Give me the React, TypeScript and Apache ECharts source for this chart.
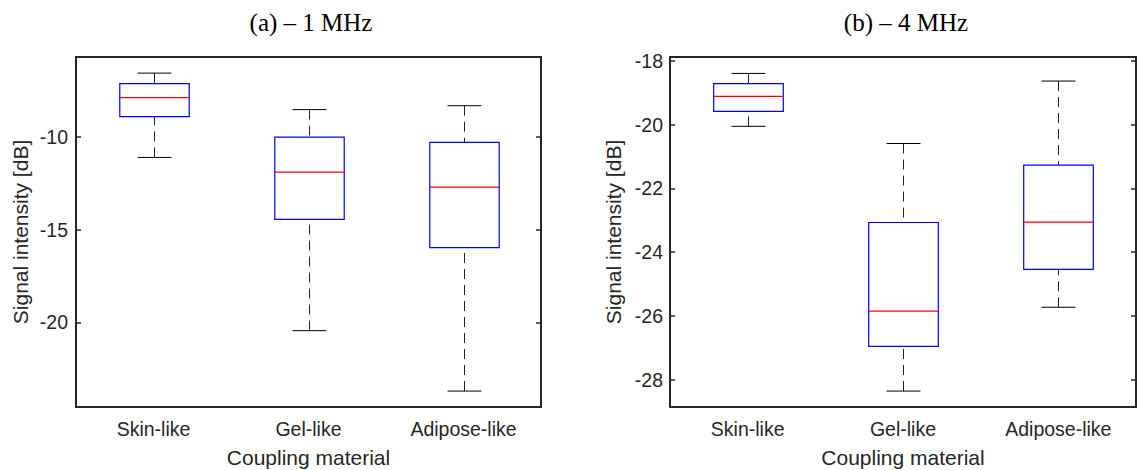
import React, { useEffect, useRef } from "react";
import * as echarts from "echarts";

// ---- Data ----
const categories = ["Skin-like", "Gel-like", "Adipose-like"];

// (a) 1 MHz
const lowA = [-11.1, -20.45, -23.71];
const q1A = [-8.9, -14.44, -15.97];
const medianA = [-7.87, -11.89, -12.7];
const q3A = [-7.12, -10.0, -10.29];
const highA = [-6.55, -8.52, -8.31];
const ticksA = [-20, -15, -10];
const rangeA = [-24.57, -5.68];

// (b) 4 MHz
const lowB = [-20.05, -28.36, -25.73];
const q1B = [-19.58, -26.96, -24.54];
const medianB = [-19.11, -25.85, -23.06];
const q3B = [-18.71, -23.07, -21.27];
const highB = [-18.39, -20.59, -18.63];
const ticksB = [-28, -26, -24, -22, -20, -18];
const rangeB = [-28.86, -17.875];

const titles = ["(a) \u2013 1 MHz", "(b) \u2013 4 MHz"];
const xName = "Coupling material";
const yName = "Signal intensity [dB]";

const AXIS = "#262626";
const SANS = "'Liberation Sans', Arial, Helvetica, sans-serif";
const SERIF = "'Liberation Serif', 'Times New Roman', serif";

function renderBox(params: any, api: any) {
  const i = api.value(0);
  const lo = api.coord([i, api.value(1)]);
  const q1 = api.coord([i, api.value(2)]);
  const md = api.coord([i, api.value(3)]);
  const q3 = api.coord([i, api.value(4)]);
  const hi = api.coord([i, api.value(5)]);
  const band = api.size([1, 0])[0];
  const bw = band * 0.448;
  const cw = band * 0.219;
  const x = Math.round(md[0]) + 0.5;
  const dash = { stroke: "#222", lineWidth: 1, lineDash: [10, 6] };
  const solid = { stroke: "#000", lineWidth: 1 };
  return {
    type: "group",
    children: [
      { type: "line", shape: { x1: x, y1: hi[1], x2: x, y2: q3[1] }, style: dash },
      { type: "line", shape: { x1: x, y1: lo[1], x2: x, y2: q1[1] }, style: dash },
      { type: "line", shape: { x1: x - cw / 2, y1: hi[1], x2: x + cw / 2, y2: hi[1] }, style: solid },
      { type: "line", shape: { x1: x - cw / 2, y1: lo[1], x2: x + cw / 2, y2: lo[1] }, style: solid },
      {
        type: "rect",
        shape: { x: x - bw / 2, y: q3[1], width: bw, height: q1[1] - q3[1] },
        style: { fill: "none", stroke: "#0000ff", lineWidth: 1.2 },
      },
      {
        type: "line",
        shape: { x1: x - bw / 2, y1: md[1], x2: x + bw / 2, y2: md[1] },
        style: { stroke: "#ff0000", lineWidth: 1.2 },
      },
    ],
  };
}

function makeData(lo: number[], q1: number[], md: number[], q3: number[], hi: number[]) {
  return categories.map((_, i) => [i, lo[i], q1[i], md[i], q3[i], hi[i]]);
}

function xAxes(gridIndex: number) {
  const line = { lineStyle: { color: AXIS, width: 2 } };
  const tick = { inside: true, alignWithLabel: true, length: 5, lineStyle: { color: AXIS, width: 1.5 } };
  return [
    {
      gridIndex,
      type: "category",
      data: categories,
      position: "bottom",
      name: xName,
      nameLocation: "middle",
      nameGap: 40,
      nameTextStyle: { fontFamily: SANS, fontSize: 21, color: AXIS },
      axisLine: line,
      axisTick: tick,
      axisLabel: { margin: 12, fontFamily: SANS, fontSize: 19.5, color: AXIS },
      splitLine: { show: false },
    },
    {
      gridIndex,
      type: "category",
      data: categories,
      position: "top",
      axisLine: line,
      axisTick: tick,
      axisLabel: { show: false },
      splitLine: { show: false },
    },
  ];
}

function yAxes(gridIndex: number, range: number[], ticks: number[], nameGap: number, margin: number) {
  const line = { show: true, lineStyle: { color: AXIS, width: 2 } };
  const tick = { show: true, inside: true, length: 5, customValues: ticks, lineStyle: { color: AXIS, width: 1.5 } };
  return [
    {
      gridIndex,
      type: "value",
      position: "left",
      min: range[0],
      max: range[1],
      name: yName,
      nameLocation: "middle",
      nameGap,
      nameTextStyle: { fontFamily: SANS, fontSize: 21, color: AXIS },
      axisLine: line,
      axisTick: tick,
      axisLabel: { customValues: ticks, margin, fontFamily: SANS, fontSize: 19.5, color: AXIS },
      splitLine: { show: false },
    },
    {
      gridIndex,
      type: "value",
      position: "right",
      min: range[0],
      max: range[1],
      axisLine: line,
      axisTick: tick,
      axisLabel: { show: false },
      splitLine: { show: false },
    },
  ];
}

export default function App() {
  const ref = useRef<HTMLDivElement>(null);
  useEffect(() => {
    if (!ref.current) return;
    const chart = echarts.init(ref.current, null, { renderer: "svg" });
    const option: any = {
      animation: false,
      backgroundColor: "#ffffff",
      graphic: [
        {
          type: "text",
          x: 311,
          y: 22,
          style: { text: titles[0], textAlign: "center", textVerticalAlign: "middle", font: `25px ${SERIF}`, fill: "#000" },
        },
        {
          type: "text",
          x: 906,
          y: 22,
          style: { text: titles[1], textAlign: "center", textVerticalAlign: "middle", font: `25px ${SERIF}`, fill: "#000" },
        },
      ],
      grid: [
        { left: 76, top: 57, width: 465, height: 350, outerBoundsMode: "none", containLabel: false },
        { left: 670, top: 57, width: 466, height: 350, outerBoundsMode: "none", containLabel: false },
      ],
      xAxis: [...xAxes(0), ...xAxes(1)],
      yAxis: [...yAxes(0, rangeA, ticksA, 45, 8), ...yAxes(1, rangeB, ticksB, 46, 7)],
      series: [
        {
          type: "custom",
          xAxisIndex: 0,
          yAxisIndex: 0,
          renderItem: renderBox,
          encode: { x: 0, y: [1, 2, 3, 4, 5] },
          data: makeData(lowA, q1A, medianA, q3A, highA),
        },
        {
          type: "custom",
          xAxisIndex: 2,
          yAxisIndex: 2,
          renderItem: renderBox,
          encode: { x: 0, y: [1, 2, 3, 4, 5] },
          data: makeData(lowB, q1B, medianB, q3B, highB),
        },
      ],
    };
    chart.setOption(option);
    return () => chart.dispose();
  }, []);
  return (
    <div
      ref={ref}
      style={{ position: "absolute", left: 0, top: 0, width: 1141, height: 470, background: "#fff" }}
    />
  );
}
